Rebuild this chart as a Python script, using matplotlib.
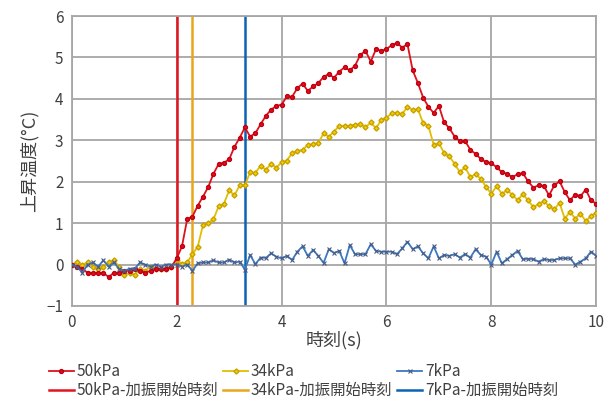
import numpy as np
import matplotlib
matplotlib.use('Agg')
import matplotlib.pyplot as plt

plt.rcParams['font.family'] = ['Noto Sans CJK JP', 'DejaVu Sans']

# time axis (s), 0.1 s step
t = np.round(np.arange(0, 10.01, 0.1), 1)

temp_50 = [0.0, -0.05, -0.1, -0.2, -0.2, -0.2, -0.2, -0.3, -0.2, -0.2,
           -0.15, -0.15, -0.1, -0.15, -0.2, -0.15, -0.1, -0.1, -0.1, -0.05,
           0.15, 0.44, 1.1, 1.16, 1.42, 1.64, 1.87, 2.19, 2.43, 2.46,
           2.54, 2.84, 3.06, 3.31, 3.09, 3.17, 3.39, 3.59, 3.74, 3.83,
           3.86, 4.06, 4.05, 4.26, 4.37, 4.19, 4.30, 4.38, 4.53, 4.60,
           4.51, 4.66, 4.76, 4.69, 4.80, 5.06, 5.16, 4.90, 5.20, 5.16,
           5.20, 5.30, 5.35, 5.24, 5.32, 4.69, 4.38, 4.03, 3.81, 3.66,
           3.83, 3.43, 3.29, 3.09, 2.98, 2.98, 2.77, 2.67, 2.55, 2.47,
           2.45, 2.35, 2.23, 2.19, 2.11, 2.18, 2.21, 2.01, 1.86, 1.91,
           1.90, 1.67, 1.91, 2.01, 1.75, 1.55, 1.69, 1.65, 1.81, 1.55,
           1.47]

temp_34 = [0.0, 0.05, 0.0, 0.05, -0.05, -0.1, -0.05, 0.05, 0.1, -0.05,
           -0.25, -0.2, -0.25, -0.1, -0.15, -0.05, -0.1, -0.1, -0.1, -0.05,
           0.1, 0.02, 0.05, 0.25, 0.43, 0.95, 1.0, 1.09, 1.41, 1.47,
           1.79, 1.67, 1.91, 1.91, 2.23, 2.21, 2.39, 2.29, 2.43, 2.34,
           2.47, 2.51, 2.69, 2.74, 2.77, 2.89, 2.91, 2.93, 3.17, 3.09,
           3.21, 3.35, 3.35, 3.35, 3.38, 3.39, 3.31, 3.43, 3.29, 3.49,
           3.55, 3.65, 3.67, 3.63, 3.81, 3.73, 3.75, 3.41, 3.35, 2.89,
           2.93, 2.69, 2.61, 2.43, 2.23, 2.35, 2.11, 2.18, 2.07, 1.87,
           1.71, 1.89, 1.71, 1.79, 1.69, 1.55, 1.70, 1.55, 1.39, 1.45,
           1.53, 1.41, 1.33, 1.49, 1.11, 1.27, 1.11, 1.23, 1.05, 1.17,
           1.25]

temp_7 = [0.0, -0.05, -0.2, 0.0, 0.05, -0.05, 0.1, -0.05, 0.05, -0.1,
          -0.15, -0.1, -0.1, 0.05, 0.0, -0.05, 0.0, -0.05, 0.0, 0.0,
          0.0, -0.05, 0.0, -0.15, 0.03, 0.05, 0.05, 0.1, 0.05, 0.05,
          0.12, 0.05, 0.07, -0.12, 0.23, 0.01, 0.17, 0.16, 0.27, 0.19,
          0.15, 0.21, 0.11, 0.31, 0.44, 0.21, 0.35, 0.21, 0.04, 0.37,
          0.28, 0.33, 0.03, 0.47, 0.25, 0.25, 0.25, 0.49, 0.33, 0.31,
          0.31, 0.31, 0.25, 0.39, 0.55, 0.37, 0.44, 0.27, 0.15, 0.44,
          0.15, 0.23, 0.21, 0.25, 0.17, 0.25, 0.17, 0.37, 0.23, 0.19,
          0.0, 0.31, 0.03, 0.13, 0.23, 0.33, 0.13, 0.14, 0.13, 0.07,
          0.13, 0.11, 0.11, 0.15, 0.15, 0.15, 0.0, 0.07, 0.15, 0.31,
          0.21]

# vibration start times (s)
start_50 = 2.0
start_34 = 2.3
start_7 = 3.3

fig = plt.figure(figsize=(6.09, 4.01), dpi=100)
ax = fig.add_axes([0.118, 0.237, 0.861, 0.723])

l1, = ax.plot(t, temp_50, color='#E0101C', lw=1.3, marker='o', ms=2.8,
              mfc='#E0101C', mec='#C00010', label='50kPa', zorder=4)
l2, = ax.plot(t, temp_34, color='#E2BE00', lw=1.3, marker='D', ms=2.6,
              mfc='#F0D000', mec='#C8A000', label='34kPa', zorder=3)
l3, = ax.plot(t, temp_7, color='#3A78C2', lw=1.3, marker='x', ms=3.5,
              mew=0.8, mec='#4A5A80', label='7kPa', zorder=5)

v1 = ax.axvline(start_50, color='#E3141C', lw=1.8, label='50kPa-加振開始時刻', zorder=2)
v2 = ax.axvline(start_34, color='#E8A71A', lw=1.8, label='34kPa-加振開始時刻', zorder=2)
v3 = ax.axvline(start_7, color='#0A64B4', lw=1.8, label='7kPa-加振開始時刻', zorder=2)

ax.set_xlim(0, 10)
ax.set_ylim(-1, 6)
ax.set_xticks([0, 2, 4, 6, 8, 10])
ax.set_yticks([-1, 0, 1, 2, 3, 4, 5, 6])
ax.grid(True, color='#A6A6A6', lw=1.3)
ax.set_axisbelow(True)
for s in ax.spines.values():
    s.set_color('#A6A6A6')
    s.set_linewidth(1.3)
ax.tick_params(length=0, labelsize=11, colors='#404040', pad=6)

ax.set_xlabel('時刻(s)', fontsize=13, color='#404040', labelpad=0)
ax.set_ylabel('上昇温度(°C)', fontsize=13, color='#404040', labelpad=6)

handles = [l1, v1, l2, v2, l3, v3]
fig.legend(handles=handles, labels=[h.get_label() for h in handles],
           loc='upper left', bbox_to_anchor=(0.068, 0.113), ncol=3,
           frameon=False, fontsize=11.1, handlelength=1.6, handletextpad=0.2,
           columnspacing=0.3, labelspacing=0.1, borderpad=0,
           labelcolor='#404040')

fig.savefig('out.png', dpi=100)
